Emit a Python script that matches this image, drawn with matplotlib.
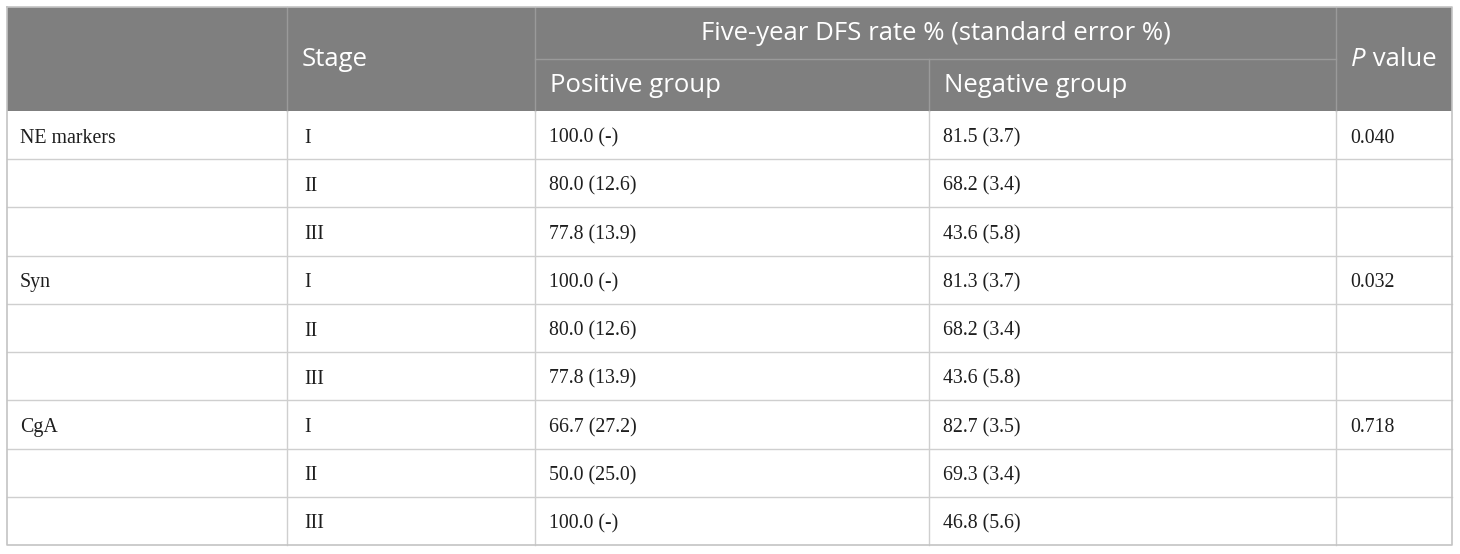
import matplotlib
matplotlib.use("Agg")
import matplotlib.pyplot as plt
from matplotlib.patches import Rectangle

# table content
markers = ['NE markers', 'Syn', 'CgA']
stages = ['I', 'II', 'III']
pos_rate = [100.0, 80.0, 77.8, 100.0, 80.0, 77.8, 66.7, 50.0, 100.0]
pos_se = [None, 12.6, 13.9, None, 12.6, 13.9, 27.2, 25.0, None]
neg_rate = [81.5, 68.2, 43.6, 81.3, 68.2, 43.6, 82.7, 69.3, 46.8]
neg_se = [3.7, 3.4, 5.8, 3.7, 3.4, 5.8, 3.5, 3.4, 5.6]
p_values = ['0.040', '0.032', '0.718']

W, H = 1460, 554
fig = plt.figure(figsize=(W / 100, H / 100), dpi=100)
ax = fig.add_axes([0, 0, 1, 1])
ax.set_xlim(0, W)
ax.set_ylim(H, 0)
ax.axis('off')

cols = [7, 287, 535, 929, 1336, 1452]
top, head_mid, head_bot, bot = 7, 59, 111, 545
n_rows = len(markers) * len(stages)
row_h = (bot - head_bot) / n_rows

head_col = '#7f7f7f'
head_line = '#9a9a9a'
body_line = '#cfcfcf'
sans = ['Open Sans', 'DejaVu Sans']
serif = ['Liberation Serif', 'DejaVu Serif']
hfs = 18.5
bfs = 14.3
txt_col = '#1e1e1e'

# header block
ax.add_patch(Rectangle((cols[0], top), cols[-1] - cols[0], head_bot - top,
                       facecolor=head_col, edgecolor='none'))
ax.plot([cols[2], cols[4]], [head_mid, head_mid], color=head_line, lw=1)
for x in (cols[1], cols[2], cols[3], cols[4]):
    y0 = head_mid if x == cols[3] else top
    ax.plot([x, x], [y0, head_bot], color=head_line, lw=1)

ax.text(cols[1] + 15, (top + head_bot) / 2, 'Stage', color='white',
        fontsize=hfs, family=sans, va='center', ha='left')
ax.text((cols[2] + cols[4]) / 2, (top + head_mid) / 2 + 1,
        'Five-year DFS rate % (standard error %)', color='white',
        fontsize=hfs, family=sans, va='center', ha='center')
ax.text(cols[2] + 15, (head_mid + head_bot) / 2 + 1, 'Positive group',
        color='white', fontsize=hfs, family=sans, va='center', ha='left')
ax.text(cols[3] + 15, (head_mid + head_bot) / 2 + 1, 'Negative group',
        color='white', fontsize=hfs, family=sans, va='center', ha='left')
pt = ax.text(cols[4] + 15, (top + head_bot) / 2, 'P', color='white',
             fontsize=hfs, family=sans, style='italic', va='center', ha='left')
ax.annotate(' value', xy=(1, 0), xycoords=pt, color='white', fontsize=hfs,
            family=sans, va='bottom', ha='left')

# body lines
for i in range(1, n_rows):
    y = head_bot + i * row_h
    ax.plot([cols[0], cols[-1]], [y, y], color=body_line, lw=1)
for x in cols[1:-1]:
    ax.plot([x, x], [head_bot, bot], color=body_line, lw=1)
ax.plot([cols[0], cols[-1], cols[-1], cols[0], cols[0]],
        [top, top, bot, bot, top], color='#c4c4c4', lw=1.2)

# body text
def fmt(rate, se):
    return '%.1f (%s)' % (rate, '-' if se is None else '%.1f' % se)

for i in range(n_rows):
    y = head_bot + (i + 0.5) * row_h + 3
    m, s = divmod(i, len(stages))
    if s == 0:
        ax.text(cols[0] + 13, y, markers[m], fontsize=bfs, family=serif,
                va='center', color=txt_col)
        ax.text(cols[4] + 14, y, p_values[m], fontsize=bfs, family=serif,
                va='center', color=txt_col)
    ax.text(cols[1] + 17, y, stages[s], fontsize=bfs, family=serif,
            va='center', color=txt_col)
    ax.text(cols[2] + 14, y, fmt(pos_rate[i], pos_se[i]), fontsize=bfs,
            family=serif, va='center', color=txt_col)
    ax.text(cols[3] + 14, y, fmt(neg_rate[i], neg_se[i]), fontsize=bfs,
            family=serif, va='center', color=txt_col)

fig.savefig('out.png', dpi=100, facecolor='white')
